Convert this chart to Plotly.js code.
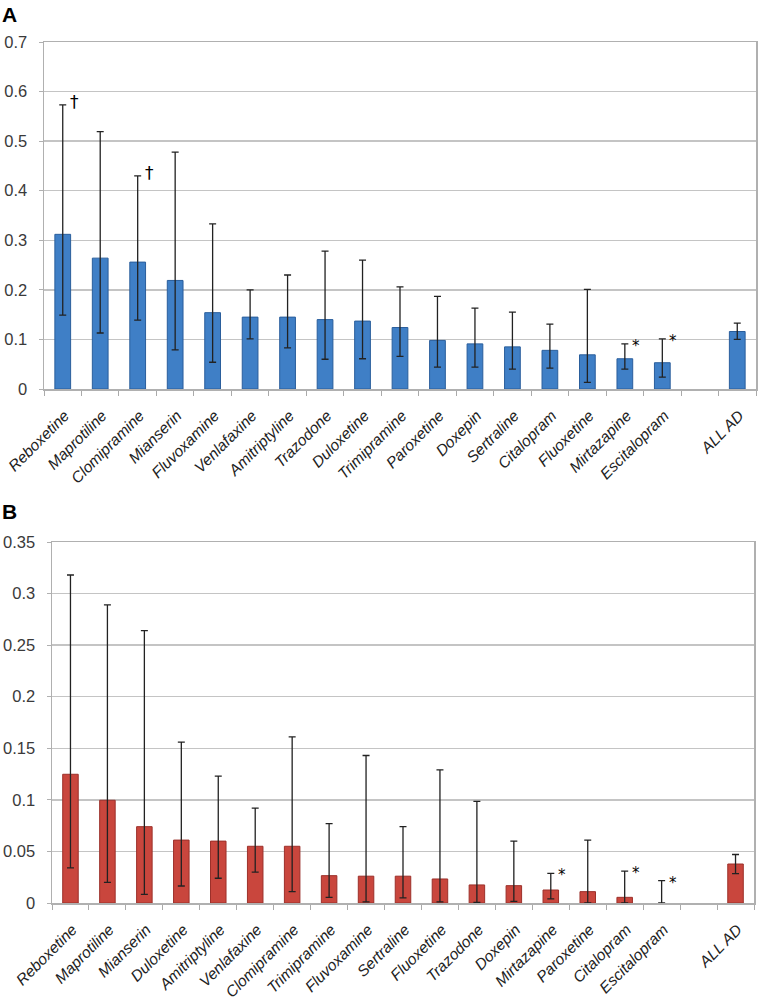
<!DOCTYPE html>
<html>
<head>
<meta charset="utf-8">
<script src="https://cdn.plot.ly/plotly-3.0.1.min.js"></script>
<style>html,body{margin:0;padding:0;background:#fff;}#chart{width:760px;height:1007px;}</style>
</head>
<body>
<div id="chart"></div>
<script>
// Panel A
const catsA = ["Reboxetine","Maprotiline","Clomipramine","Mianserin","Fluvoxamine","Venlafaxine","Amitriptyline","Trazodone","Duloxetine","Trimipramine","Paroxetine","Doxepin","Sertraline","Citalopram","Fluoxetine","Mirtazapine","Escitalopram"," ","ALL AD"];
const valsA = [0.312,0.264,0.256,0.219,0.154,0.145,0.145,0.140,0.137,0.124,0.098,0.091,0.085,0.078,0.069,0.061,0.053,null,0.116];
const upA   = [0.573,0.519,0.430,0.478,0.333,0.200,0.230,0.278,0.260,0.206,0.187,0.163,0.155,0.131,0.201,0.091,0.101,null,0.133];
const loA   = [0.149,0.113,0.139,0.079,0.054,0.101,0.083,0.060,0.061,0.066,0.044,0.044,0.040,0.042,0.0135,0.040,0.024,null,0.100];
const marksA = [["Reboxetine","†"],["Clomipramine","†"],["Mirtazapine","*"],["Escitalopram","*"]];

// Panel B
const catsB = ["Reboxetine","Maprotiline","Mianserin","Duloxetine","Amitriptyline","Venlafaxine","Clomipramine","Trimipramine","Fluvoxamine","Sertraline","Fluoxetine","Trazodone","Doxepin","Mirtazapine","Paroxetine","Citalopram","Escitalopram"," ","ALL AD"];
const valsB = [0.1248,0.0996,0.074,0.061,0.060,0.055,0.055,0.0265,0.026,0.026,0.0233,0.0175,0.0168,0.0126,0.011,0.0055,0,null,0.0378];
const upB   = [0.318,0.289,0.264,0.156,0.123,0.092,0.161,0.077,0.143,0.074,0.129,0.0986,0.060,0.0288,0.061,0.031,0.0217,null,0.047];
const loB   = [0.034,0.020,0.0084,0.0165,0.024,0.030,0.011,0.0055,0.001,0.005,0.001,0.0006,0.0016,0.004,0,0,0,null,0.0284];
const marksB = [["Mirtazapine","*"],["Citalopram","*"],["Escitalopram","*"]];

const tickA = ["0","0.1","0.2","0.3","0.4","0.5","0.6","0.7"];
const tickB = ["0","0.05","0.1","0.15","0.2","0.25","0.3","0.35"];

function diff(a,b,sign){return a.map((v,i)=>v==null?null:(sign>0?(b[i]-v):(v-b[i])));}

function barTrace(cats, vals, up, lo, color, line, xa, ya){
  return {
    type:"bar", x:cats, y:vals, xaxis:xa, yaxis:ya, width:0.42,
    marker:{color:color, line:{color:line, width:vals.map(v=>v>0?1:0)}},
    error_y:{type:"data", symmetric:false, array:diff(vals,up,1), arrayminus:diff(vals,lo,-1),
             color:"#222", thickness:1.3, width:3.5},
    hoverinfo:"none", showlegend:false
  };
}

const W=760,H=1007;
const axisFont={family:"Liberation Sans, Arial, sans-serif", size:16.5, color:"#3a3a3a"};
const xFont={family:"Liberation Sans, Arial, sans-serif", size:15.5, color:"#222", style:"italic"};

function xaxisDef(domL,domR,anchor){
  return {domain:[domL/W,domR/W], anchor:anchor, type:"category", tickangle:-45, tickfont:xFont,
    ticks:"outside", tickson:"boundaries", ticklen:5, tickcolor:"#aaa", tickwidth:1,
    showline:true, linecolor:"#b0b0b0", linewidth:1.5, mirror:true, showgrid:false,
    automargin:false, fixedrange:true, ticklabelstandoff:10, ticklabelshift:2};
}
function yaxisDef(top,bottom,range,ticks,anchor){
  return {domain:[1-bottom/H,1-top/H], anchor:anchor, range:range,
    tickvals:ticks.map(Number), ticktext:ticks,
    tickfont:axisFont, ticks:"outside", ticklen:4, tickcolor:"#b0b0b0",
    showline:true, linecolor:"#b0b0b0", linewidth:1.5, mirror:true,
    showgrid:true, gridcolor:"#c4c4c4", gridwidth:1.3, zeroline:false,
    automargin:false, fixedrange:true, ticklabelstandoff:8};
}

function marks(list, cats, up, xa, ya){
  return list.map(([c,t])=>{
    const i=cats.indexOf(c);
    return {x:c, y:up[i], xref:xa, yref:ya, text:t, showarrow:false,
      xanchor:"left", yanchor:"middle", xshift:5, yshift:t==="*"?-2:3,
      font:{family:"DejaVu Sans, sans-serif", size:t==="*"?15:17, color:"#000000"}};
  });
}

const data=[
  barTrace(catsA,valsA,upA,loA,"#3f7fc6","#2a5e9c","x","y"),
  barTrace(catsB,valsB,upB,loB,"#c9463d","#9c302a","x2","y2")
];

const layout={
  width:W, height:H, margin:{l:0,r:0,t:0,b:0}, paper_bgcolor:"#fff", plot_bgcolor:"#fff",
  showlegend:false, bargap:0.5,
  xaxis: xaxisDef(44,756,"y"),
  yaxis: yaxisDef(42,389,[0,0.7],tickA,"x"),
  xaxis2: xaxisDef(52,754,"y2"),
  yaxis2: yaxisDef(542,903,[0,0.35],tickB,"x2"),
  annotations:[
    {x:0,y:1-15/H,xref:"paper",yref:"paper",text:"<b>A</b>",showarrow:false,xanchor:"left",yanchor:"middle",
     font:{family:"Liberation Sans, Arial, sans-serif",size:21,color:"#000"}},
    {x:0,y:1-511/H,xref:"paper",yref:"paper",text:"<b>B</b>",showarrow:false,xanchor:"left",yanchor:"middle",
     font:{family:"Liberation Sans, Arial, sans-serif",size:21,color:"#000"}}
  ].concat(marks(marksA,catsA,upA,"x","y")).concat(marks(marksB,catsB,upB,"x2","y2"))
};

Plotly.newPlot("chart",data,layout,{staticPlot:true});
</script>
</body>
</html>
